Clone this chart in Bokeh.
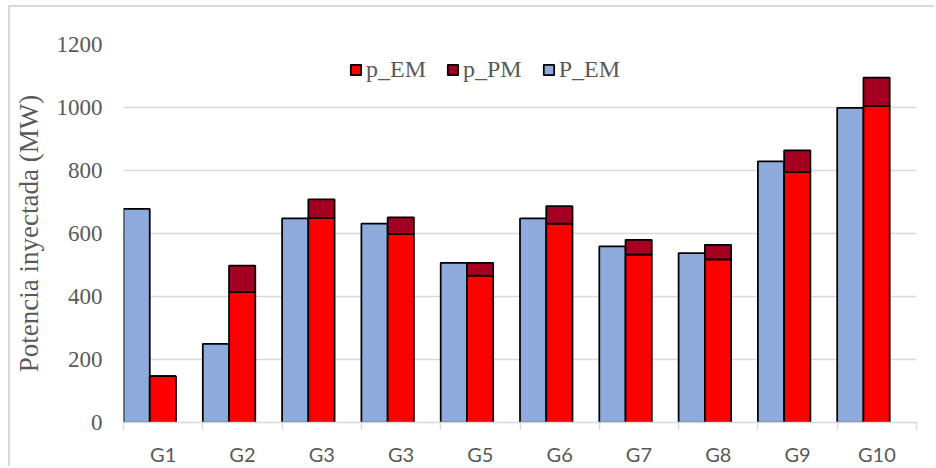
from bokeh.plotting import figure
from bokeh.models import ColumnDataSource, FixedTicker, Legend, LegendItem
from bokeh.embed import file_html
from bokeh.resources import INLINE
import numpy as np

categories = ["G1", "G2", "G3", "G3", "G5", "G6", "G7", "G8", "G9", "G10"]
P_EM = [678, 250, 648, 631, 507, 648, 559, 538, 829, 999]
p_EM = [147, 414, 650, 599, 466, 631, 533, 518, 795, 1005]
p_PM = [0, 84, 58, 52, 41, 56, 47, 46, 69, 90]
y_ticks = [0, 200, 400, 600, 800, 1000, 1200]

BAR_W = 0.331
idx = np.arange(len(categories))
src = ColumnDataSource(dict(
    xb=idx + BAR_W / 2,
    xr=idx + BAR_W * 1.5,
    P_EM=P_EM, p_EM=p_EM, p_PM=p_PM,
))

p = figure(width=926, height=461, x_range=(0, len(categories)), y_range=(0, 1200),
           output_backend="svg", toolbar_location=None,
           min_border_left=109, min_border_right=20, min_border_top=37, min_border_bottom=44)
p.styles = {"margin-left": "8px", "margin-top": "5px",
            "border-left": "2px solid #D9D9D9", "border-top": "2px solid #D9D9D9"}
p.outline_line_color = None
p.background_fill_color = "white"
p.border_fill_color = "white"

blue = p.vbar(x="xb", width=BAR_W, top="P_EM", bottom=0, source=src,
              fill_color="#8FAADC", line_color="black", line_width=1.75)
stack = p.vbar_stack(["p_EM", "p_PM"], x="xr", width=BAR_W, source=src,
                     fill_color=["#FF0000", "#A50021"], line_color="black", line_width=1.75)

# x axis
p.xaxis.ticker = FixedTicker(ticks=list(idx + 0.5), minor_ticks=list(range(len(categories) + 1)))
p.xaxis.major_label_overrides = {float(i + 0.5): c for i, c in enumerate(categories)}
p.xaxis.major_tick_line_color = None
p.xaxis.major_tick_out = 0
p.xaxis.major_tick_in = 0
p.xaxis.minor_tick_out = 7
p.xaxis.minor_tick_in = 0
p.xaxis.minor_tick_line_color = "#D9D9D9"
p.xaxis.minor_tick_line_width = 1.5
p.xaxis.axis_line_color = "#D9D9D9"
p.xaxis.axis_line_width = 1.5
p.xaxis.major_label_text_font = "Lato"
p.xaxis.major_label_text_font_size = "20px"
p.xaxis.major_label_text_color = "#595959"
p.xaxis.major_label_standoff = 12
p.xgrid.grid_line_color = None

# y axis
p.yaxis.ticker = FixedTicker(ticks=y_ticks)
p.yaxis.axis_line_color = None
p.yaxis.major_tick_line_color = None
p.yaxis.major_tick_out = 0
p.yaxis.major_tick_in = 0
p.yaxis.minor_tick_line_color = None
p.yaxis.major_label_text_font = "Liberation Serif"
p.yaxis.major_label_text_font_size = "23px"
p.yaxis.major_label_text_color = "#595959"
p.yaxis.major_label_standoff = 21
p.yaxis.axis_label = "Potencia inyectada (MW)"
p.yaxis.axis_label_text_font = "Liberation Serif"
p.yaxis.axis_label_text_font_size = "27px"
p.yaxis.axis_label_text_font_style = "normal"
p.yaxis.axis_label_text_color = "#595959"
p.yaxis.axis_label_standoff = 10
p.ygrid.grid_line_color = "#D9D9D9"
p.ygrid.grid_line_width = 1.5

legend = Legend(items=[
    LegendItem(label="p_EM", renderers=[stack[0]]),
    LegendItem(label="p_PM", renderers=[stack[1]]),
    LegendItem(label="P_EM", renderers=[blue]),
], orientation="horizontal", location=(226, 339))
legend.background_fill_alpha = 0
legend.border_line_color = None
legend.padding = 0
legend.margin = 0
legend.spacing = 20
legend.glyph_width = 13
legend.glyph_height = 13
legend.label_standoff = 4
legend.label_text_font = "Liberation Serif"
legend.label_text_font_size = "24px"
legend.label_text_color = "#595959"
p.add_layout(legend, "center")

open("out.html", "w").write(file_html(p, INLINE))
